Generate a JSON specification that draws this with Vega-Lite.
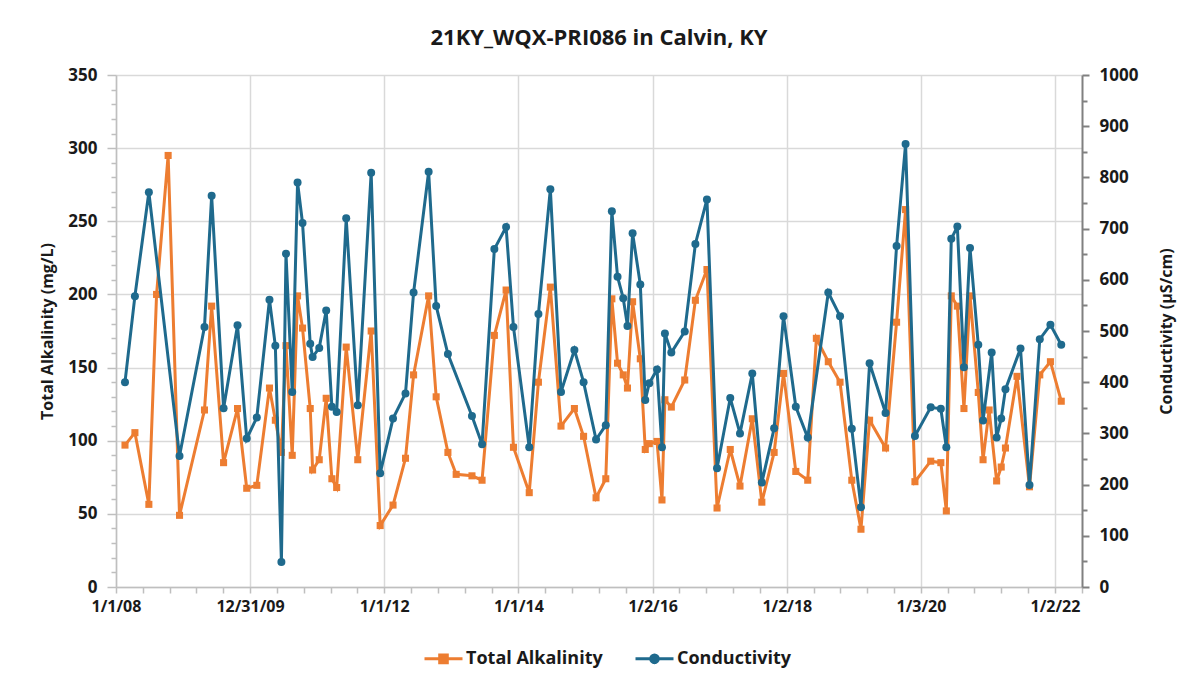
{
  "$schema": "https://vega.github.io/schema/vega-lite/v6.json",
  "width": 966,
  "height": 512,
  "autosize": {"type": "none"},
  "padding": {"left": 116, "top": 75, "right": 112, "bottom": 99},
  "background": "white",
  "config": {
    "view": {"stroke": null},
    "font": "Open Sans",
    "axis": {"titleFont": "Open Sans", "labelFont": "Open Sans"}
  },
  "title": {
    "text": "21KY_WQX-PRI086 in Calvin, KY",
    "font": "Open Sans",
    "fontSize": 22,
    "fontWeight": "bold",
    "color": "#1a1a1a",
    "anchor": "middle",
    "offset": 16
  },
  "data": {
    "values": [
      {"date": "2008-02-19", "Total Alkalinity": 97, "Conductivity": 400},
      {"date": "2008-04-13", "Total Alkalinity": 105.5, "Conductivity": 568},
      {"date": "2008-06-28", "Total Alkalinity": 56.5, "Conductivity": 771},
      {"date": "2008-08-09", "Total Alkalinity": 200},
      {"date": "2008-10-11", "Total Alkalinity": 295},
      {"date": "2008-12-12", "Total Alkalinity": 49, "Conductivity": 256},
      {"date": "2009-04-27", "Total Alkalinity": 121, "Conductivity": 508},
      {"date": "2009-06-05", "Total Alkalinity": 192, "Conductivity": 764},
      {"date": "2009-08-09", "Total Alkalinity": 85, "Conductivity": 349},
      {"date": "2009-10-24", "Total Alkalinity": 122, "Conductivity": 511},
      {"date": "2009-12-13", "Total Alkalinity": 67.5, "Conductivity": 290},
      {"date": "2010-02-06", "Total Alkalinity": 69.5, "Conductivity": 331},
      {"date": "2010-04-16", "Total Alkalinity": 136, "Conductivity": 561},
      {"date": "2010-05-18", "Total Alkalinity": 114, "Conductivity": 471},
      {"date": "2010-06-20", "Total Alkalinity": 92, "Conductivity": 49},
      {"date": "2010-07-15", "Total Alkalinity": 165, "Conductivity": 651},
      {"date": "2010-08-18", "Total Alkalinity": 90, "Conductivity": 381},
      {"date": "2010-09-16", "Total Alkalinity": 199, "Conductivity": 790},
      {"date": "2010-10-13", "Total Alkalinity": 177, "Conductivity": 711},
      {"date": "2010-11-24", "Total Alkalinity": 122, "Conductivity": 475},
      {"date": "2010-12-07", "Total Alkalinity": 80, "Conductivity": 449},
      {"date": "2011-01-12", "Total Alkalinity": 87, "Conductivity": 467},
      {"date": "2011-02-19", "Total Alkalinity": 129, "Conductivity": 540},
      {"date": "2011-03-22", "Total Alkalinity": 74, "Conductivity": 352},
      {"date": "2011-04-17", "Total Alkalinity": 68, "Conductivity": 342},
      {"date": "2011-06-08", "Total Alkalinity": 164, "Conductivity": 720},
      {"date": "2011-08-10", "Total Alkalinity": 87, "Conductivity": 355},
      {"date": "2011-10-22", "Total Alkalinity": 175, "Conductivity": 809},
      {"date": "2011-12-10", "Total Alkalinity": 42, "Conductivity": 222},
      {"date": "2012-02-18", "Total Alkalinity": 56, "Conductivity": 329},
      {"date": "2012-04-26", "Total Alkalinity": 88, "Conductivity": 378},
      {"date": "2012-06-09", "Total Alkalinity": 145, "Conductivity": 575},
      {"date": "2012-08-30", "Total Alkalinity": 199, "Conductivity": 811},
      {"date": "2012-10-10", "Total Alkalinity": 130, "Conductivity": 549},
      {"date": "2012-12-13", "Total Alkalinity": 92, "Conductivity": 455},
      {"date": "2013-01-27", "Total Alkalinity": 77},
      {"date": "2013-04-23", "Total Alkalinity": 76, "Conductivity": 334},
      {"date": "2013-06-17", "Total Alkalinity": 73, "Conductivity": 279},
      {"date": "2013-08-23", "Total Alkalinity": 172, "Conductivity": 660},
      {"date": "2013-10-26", "Total Alkalinity": 203, "Conductivity": 703},
      {"date": "2013-12-05", "Total Alkalinity": 95.5, "Conductivity": 508},
      {"date": "2014-03-01", "Total Alkalinity": 64.5, "Conductivity": 273},
      {"date": "2014-04-20", "Total Alkalinity": 140, "Conductivity": 533},
      {"date": "2014-06-24", "Total Alkalinity": 205, "Conductivity": 777},
      {"date": "2014-08-21", "Total Alkalinity": 110, "Conductivity": 381},
      {"date": "2014-11-02", "Total Alkalinity": 122, "Conductivity": 463},
      {"date": "2014-12-22", "Total Alkalinity": 103, "Conductivity": 400},
      {"date": "2015-02-28", "Total Alkalinity": 61, "Conductivity": 288},
      {"date": "2015-04-22", "Total Alkalinity": 74, "Conductivity": 316},
      {"date": "2015-05-25", "Total Alkalinity": 197, "Conductivity": 734},
      {"date": "2015-06-25", "Total Alkalinity": 153, "Conductivity": 606},
      {"date": "2015-07-26", "Total Alkalinity": 145, "Conductivity": 564},
      {"date": "2015-08-18", "Total Alkalinity": 136, "Conductivity": 510},
      {"date": "2015-09-15", "Total Alkalinity": 195, "Conductivity": 691},
      {"date": "2015-10-27", "Total Alkalinity": 156, "Conductivity": 591},
      {"date": "2015-11-23", "Total Alkalinity": 94, "Conductivity": 365},
      {"date": "2015-12-15", "Total Alkalinity": 98, "Conductivity": 398},
      {"date": "2016-01-26", "Total Alkalinity": 99.5, "Conductivity": 425},
      {"date": "2016-02-22", "Total Alkalinity": 59.5, "Conductivity": 273},
      {"date": "2016-03-09", "Total Alkalinity": 128, "Conductivity": 495},
      {"date": "2016-04-13", "Total Alkalinity": 123, "Conductivity": 458},
      {"date": "2016-06-25", "Total Alkalinity": 141.5, "Conductivity": 499},
      {"date": "2016-08-22", "Total Alkalinity": 196, "Conductivity": 670},
      {"date": "2016-10-24", "Total Alkalinity": 217, "Conductivity": 757},
      {"date": "2016-12-18", "Total Alkalinity": 54, "Conductivity": 232},
      {"date": "2017-02-28", "Total Alkalinity": 94, "Conductivity": 369},
      {"date": "2017-04-22", "Total Alkalinity": 69, "Conductivity": 300},
      {"date": "2017-06-28", "Total Alkalinity": 115, "Conductivity": 417},
      {"date": "2017-08-19", "Total Alkalinity": 58, "Conductivity": 204},
      {"date": "2017-10-25", "Total Alkalinity": 92, "Conductivity": 310},
      {"date": "2017-12-15", "Total Alkalinity": 146, "Conductivity": 529},
      {"date": "2018-02-20", "Total Alkalinity": 79, "Conductivity": 352},
      {"date": "2018-04-26", "Total Alkalinity": 73, "Conductivity": 292},
      {"date": "2018-06-12", "Total Alkalinity": 170},
      {"date": "2018-08-16", "Total Alkalinity": 154, "Conductivity": 575},
      {"date": "2018-10-19", "Total Alkalinity": 140, "Conductivity": 529},
      {"date": "2018-12-22", "Total Alkalinity": 73, "Conductivity": 309},
      {"date": "2019-02-10", "Total Alkalinity": 39.5, "Conductivity": 156},
      {"date": "2019-03-29", "Total Alkalinity": 114, "Conductivity": 437},
      {"date": "2019-06-24", "Total Alkalinity": 95, "Conductivity": 340},
      {"date": "2019-08-23", "Total Alkalinity": 181, "Conductivity": 666},
      {"date": "2019-10-11", "Total Alkalinity": 258, "Conductivity": 865},
      {"date": "2019-12-01", "Total Alkalinity": 72, "Conductivity": 295},
      {"date": "2020-02-25", "Total Alkalinity": 86, "Conductivity": 351},
      {"date": "2020-04-20", "Total Alkalinity": 85, "Conductivity": 348},
      {"date": "2020-05-20", "Total Alkalinity": 52, "Conductivity": 273},
      {"date": "2020-06-16", "Total Alkalinity": 199, "Conductivity": 680},
      {"date": "2020-07-19", "Total Alkalinity": 192, "Conductivity": 704},
      {"date": "2020-08-24", "Total Alkalinity": 122, "Conductivity": 429},
      {"date": "2020-09-26", "Total Alkalinity": 199, "Conductivity": 662},
      {"date": "2020-11-10", "Total Alkalinity": 133, "Conductivity": 473},
      {"date": "2020-12-06", "Total Alkalinity": 87, "Conductivity": 325},
      {"date": "2021-01-08", "Total Alkalinity": 121},
      {"date": "2021-01-22", "Conductivity": 458},
      {"date": "2021-02-18", "Total Alkalinity": 72.5, "Conductivity": 292},
      {"date": "2021-03-15", "Total Alkalinity": 82, "Conductivity": 329},
      {"date": "2021-04-07", "Total Alkalinity": 95, "Conductivity": 386},
      {"date": "2021-06-09", "Total Alkalinity": 144},
      {"date": "2021-06-28", "Conductivity": 466},
      {"date": "2021-08-16", "Total Alkalinity": 68.5, "Conductivity": 199},
      {"date": "2021-10-11", "Total Alkalinity": 145, "Conductivity": 484},
      {"date": "2021-12-08", "Total Alkalinity": 154, "Conductivity": 512},
      {"date": "2022-02-05", "Total Alkalinity": 127, "Conductivity": 473}
    ]
  },
  "transform": [
    {"fold": ["Total Alkalinity", "Conductivity"], "as": ["series", "value"]},
    {"filter": "isValid(datum.value)"}
  ],
  "encoding": {
    "x": {
      "field": "date",
      "type": "temporal",
      "scale": {
        "type": "utc",
        "domain": [
          {"year": 2008, "month": 1, "date": 1, "utc": true},
          {"year": 2022, "month": 5, "date": 29, "utc": true}
        ]
      },
      "axis": {
        "title": null,
        "values": [
          {"year": 2008, "month": 1, "date": 1, "utc": true},
          {"year": 2008, "month": 5, "date": 26, "utc": true},
          {"year": 2008, "month": 10, "date": 19, "utc": true},
          {"year": 2009, "month": 3, "date": 14, "utc": true},
          {"year": 2009, "month": 8, "date": 7, "utc": true},
          {"year": 2009, "month": 12, "date": 31, "utc": true},
          {"year": 2010, "month": 5, "date": 26, "utc": true},
          {"year": 2010, "month": 10, "date": 19, "utc": true},
          {"year": 2011, "month": 3, "date": 15, "utc": true},
          {"year": 2011, "month": 8, "date": 8, "utc": true},
          {"year": 2012, "month": 1, "date": 1, "utc": true},
          {"year": 2012, "month": 5, "date": 26, "utc": true},
          {"year": 2012, "month": 10, "date": 19, "utc": true},
          {"year": 2013, "month": 3, "date": 15, "utc": true},
          {"year": 2013, "month": 8, "date": 8, "utc": true},
          {"year": 2014, "month": 1, "date": 1, "utc": true},
          {"year": 2014, "month": 5, "date": 27, "utc": true},
          {"year": 2014, "month": 10, "date": 20, "utc": true},
          {"year": 2015, "month": 3, "date": 16, "utc": true},
          {"year": 2015, "month": 8, "date": 9, "utc": true},
          {"year": 2016, "month": 1, "date": 2, "utc": true},
          {"year": 2016, "month": 5, "date": 27, "utc": true},
          {"year": 2016, "month": 10, "date": 20, "utc": true},
          {"year": 2017, "month": 3, "date": 16, "utc": true},
          {"year": 2017, "month": 8, "date": 9, "utc": true},
          {"year": 2018, "month": 1, "date": 2, "utc": true},
          {"year": 2018, "month": 5, "date": 28, "utc": true},
          {"year": 2018, "month": 10, "date": 21, "utc": true},
          {"year": 2019, "month": 3, "date": 17, "utc": true},
          {"year": 2019, "month": 8, "date": 10, "utc": true},
          {"year": 2020, "month": 1, "date": 3, "utc": true},
          {"year": 2020, "month": 5, "date": 28, "utc": true},
          {"year": 2020, "month": 10, "date": 20, "utc": true},
          {"year": 2021, "month": 3, "date": 16, "utc": true},
          {"year": 2021, "month": 8, "date": 9, "utc": true},
          {"year": 2022, "month": 1, "date": 2, "utc": true},
          {"year": 2022, "month": 5, "date": 29, "utc": true}
        ],
        "labelExpr": "(utcmonth(datum.value) === 0 && utcdate(datum.value) <= 3) || (utcmonth(datum.value) === 11 && utcdate(datum.value) === 31) ? utcFormat(datum.value, '%-m/%-d/%y') : ''",
        "labelFontSize": 16,
        "labelFontWeight": "bold",
        "labelColor": "#1a1a1a",
        "labelPadding": 5,
        "labelOverlap": false,
        "labelFlush": false,
        "domainColor": "#BFBFBF",
        "domainWidth": 1.5,
        "tickColor": "#BFBFBF",
        "tickWidth": 1.5,
        "tickSize": 6,
        "grid": true,
        "gridColor": "#D9D9D9",
        "gridWidth": 1.5,
        "gridOpacity": {
          "condition": {
            "test": "(utcmonth(datum.value) === 0 && utcdate(datum.value) <= 3) || (utcmonth(datum.value) === 11 && utcdate(datum.value) === 31)",
            "value": 1
          },
          "value": 0
        }
      }
    }
  },
  "layer": [
    {
      "transform": [{"filter": "datum.series === 'Total Alkalinity'"}],
      "encoding": {
        "y": {
          "field": "value",
          "type": "quantitative",
          "scale": {"domain": [0, 350], "nice": false},
          "axis": {
            "title": "Total Alkalinity (mg/L)",
            "titleFontSize": 16,
            "titleFontWeight": "bold",
            "titleColor": "#1a1a1a",
            "titlePadding": 12,
            "values": [0, 10, 20, 30, 40, 50, 60, 70, 80, 90, 100, 110, 120, 130, 140, 150, 160, 170, 180, 190, 200, 210, 220, 230, 240, 250, 260, 270, 280, 290, 300, 310, 320, 330, 340, 350],
            "labelExpr": "datum.value % 50 === 0 ? datum.label : ''",
            "labelFontSize": 17,
            "labelFontWeight": "bold",
            "labelColor": "#1a1a1a",
            "labelPadding": 10,
            "domainColor": "#BFBFBF",
            "domainWidth": 1.5,
            "tickColor": "#BFBFBF",
            "tickWidth": 1.5,
            "tickSize": {"condition": {"test": "datum.value % 50 === 0", "value": 9}, "value": 5},
            "grid": true,
            "gridColor": "#D9D9D9",
            "gridWidth": 1.5,
            "gridOpacity": {"condition": {"test": "datum.value % 50 === 0", "value": 1}, "value": 0}
          }
        }
      },
      "layer": [
        {
          "mark": {"type": "line", "strokeWidth": 3},
          "encoding": {
            "color": {
              "field": "series",
              "type": "nominal",
              "scale": {"domain": ["Total Alkalinity", "Conductivity"], "range": ["#ED7D31", "#1F6A8D"]},
              "legend": {
                "title": null,
                "orient": "none",
                "legendX": 307,
                "legendY": 563,
                "direction": "horizontal",
                "labelFontSize": 18,
                "labelFontWeight": "bold",
                "labelColor": "#1a1a1a",
                "labelOffset": 2,
                "columnPadding": 26,
                "symbolSize": 1444,
                "symbolStrokeWidth": 3,
                "encode": {
                  "symbols": {
                    "update": {
                      "shape": {"signal": "datum.value === 'Total Alkalinity' ? 'M-1,0H1M-0.2,-0.2H0.2V0.2H-0.2Z' : 'M-1,0H1M0.2,0A0.2,0.2 0 1,1 -0.2,0A0.2,0.2 0 1,1 0.2,0Z'"},
                      "fill": {"signal": "datum.value === 'Total Alkalinity' ? '#ED7D31' : '#1F6A8D'"},
                      "fillOpacity": {"value": 1}
                    }
                  }
                }
              }
            }
          }
        },
        {
          "mark": {"type": "point", "shape": "square", "filled": true, "size": 50, "color": "#ED7D31", "opacity": 1}
        }
      ]
    },
    {
      "transform": [{"filter": "datum.series === 'Conductivity'"}],
      "encoding": {
        "y": {
          "field": "value",
          "type": "quantitative",
          "scale": {"domain": [0, 1000], "nice": false},
          "axis": {
            "orient": "right",
            "title": "Conductivity (µS/cm)",
            "titleAngle": -90,
            "titleFontSize": 16,
            "titleFontWeight": "bold",
            "titleColor": "#1a1a1a",
            "titlePadding": 37,
            "values": [0, 50, 100, 150, 200, 250, 300, 350, 400, 450, 500, 550, 600, 650, 700, 750, 800, 850, 900, 950, 1000],
            "labelExpr": "datum.value % 100 === 0 ? format(datum.value, 'd') : ''",
            "labelFontSize": 17,
            "labelFontWeight": "bold",
            "labelColor": "#1a1a1a",
            "labelPadding": 10,
            "domainColor": "#808080",
            "domainWidth": 2,
            "tickColor": "#808080",
            "tickWidth": 2,
            "tickSize": {"condition": {"test": "datum.value % 100 === 0", "value": 7}, "value": 5},
            "grid": false
          }
        }
      },
      "layer": [
        {
          "mark": {"type": "line", "strokeWidth": 3},
          "encoding": {"color": {"field": "series", "type": "nominal"}}
        },
        {
          "mark": {"type": "point", "shape": "circle", "filled": true, "size": 64, "color": "#1F6A8D", "opacity": 1}
        }
      ]
    }
  ],
  "resolve": {"scale": {"y": "independent"}}
}
